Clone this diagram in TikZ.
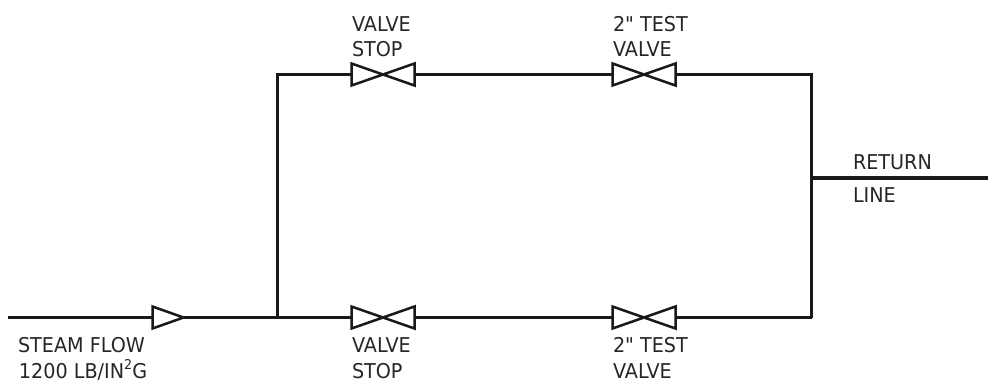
\documentclass[tikz,border=0pt]{standalone}
\usepackage{fontspec}
\newfontfamily\lblfont[FakeStretch=0.94]{DejaVu Sans}
\begin{document}
\begin{tikzpicture}[x=1pt,y=-1pt,
  pipe/.style={line width=3.3pt,draw=black!90,line cap=butt,line join=miter},
  symbolline/.style={line width=2.5pt,draw=black!90,line join=miter},
  valvebox/.style={minimum width=63pt,minimum height=22pt,inner sep=0pt,outer sep=0pt},
  checkbox/.style={minimum width=31pt,minimum height=22pt,inner sep=0pt,outer sep=0pt},
  lbl/.style={anchor=base west,inner sep=0pt,outer sep=0pt,font=\lblfont\fontsize{20.4pt}{22pt}\selectfont,text=black!85}]
\useasboundingbox (0,0) rectangle (988,381);
\fill[white] (0,0) rectangle (988,381);
% fixed points
\coordinate (start) at (8,317.5);
\coordinate (jl) at (277.5,317.5);
\coordinate (tl) at (277.5,74.5);
\coordinate (tr) at (811.5,74.5);
\coordinate (br) at (811.5,317.5);
\coordinate (jr) at (811.5,178);
\coordinate (retend) at (988,178);
% symbols
\node[checkbox] (chk) at (168,317.5) {};
\node[valvebox] (vs1) at (383,74.5) {};
\node[valvebox] (vt1) at (644,74.5) {};
\node[valvebox] (vs2) at (383,317.5) {};
\node[valvebox] (vt2) at (644,317.5) {};
% connectors
\draw[pipe] (start) -- (chk.west);
\draw[pipe] (chk.east) -- (jl);
\draw[pipe] (jl) -- (vs2.west);
\draw[pipe] (vs2.east) -- (vt2.west);
\draw[pipe] (vt2.east) -- (br);
\draw[pipe] (jl) -- (tl) -- (vs1.west);
\draw[pipe] (vs1.east) -- (vt1.west);
\draw[pipe] (vt1.east) -- (tr) -- (br);
\draw[pipe] (jr) -- (retend);
% valve bodies
\draw[symbolline,fill=white] (chk.north west) -- (chk.east) -- (chk.south west) -- cycle;
\foreach \v in {vs1,vt1,vs2,vt2}{
  \draw[symbolline,fill=white] (\v.north west) -- (\v.center) -- (\v.south west) -- cycle;
  \draw[symbolline,fill=white] (\v.north east) -- (\v.center) -- (\v.south east) -- cycle;
}
% labels
\node[lbl] (a1) at (352,31) {VALVE};
\node[lbl] (a2) at (352,56) {STOP};
\node[lbl] (b1) at (613,31) {2" TEST};
\node[lbl] (b2) at (613,56) {VALVE};
\node[lbl] (c1) at (853,169) {RETURN};
\node[lbl] (c2) at (853,202) {LINE};
\node[lbl] (d1) at (18,352) {STEAM FLOW};
\node[lbl] (d2) at (19,378) {1200 LB/IN\raisebox{0.4em}{\fontsize{13.5pt}{14pt}\selectfont 2}G};
\node[lbl] (e1) at (352,352) {VALVE};
\node[lbl] (e2) at (352,378) {STOP};
\node[lbl] (f1) at (613,352) {2" TEST};
\node[lbl] (f2) at (613,378) {VALVE};
\end{tikzpicture}
\end{document}
